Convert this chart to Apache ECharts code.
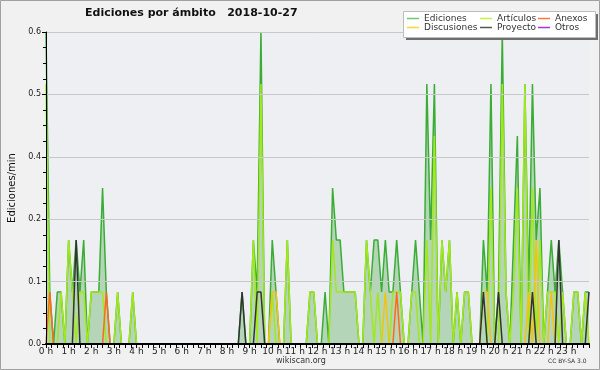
<!DOCTYPE html>
<html>
<head>
<meta charset="utf-8">
<script src="https://cdn.jsdelivr.net/npm/echarts@6/dist/echarts.min.js"></script>
<style>
html,body{margin:0;padding:0;background:#f1f1f1;}
#c{width:600px;height:370px;}
</style>
</head>
<body>
<div id="c"></div>
<script>
// 10-minute bins, 0:00 .. 24:00 (145 points), edits per minute
const hourLabels = ['0 h','1 h','2 h','3 h','4 h','5 h','6 h','7 h','8 h','9 h','10 h','11 h','12 h','13 h','14 h','15 h','16 h','17 h','18 h','19 h','20 h','21 h','22 h','23 h'];
const seriesNames = ['Ediciones','Artículos','Anexos','Discusiones','Proyecto','Otros'];

const ediciones = [
  0.6,0.1,0,0.1,0.1,0, 0.2,0.1,0.2,0.1,0.2,0,
  0.1,0.1,0.1,0.3,0.1,0, 0,0.1,0,0,0,0.1,
  0,0,0,0,0,0, 0,0,0,0,0,0,
  0,0,0,0,0,0, 0,0,0,0,0,0,
  0,0,0,0,0.1,0, 0,0.2,0.1,0.6,0,0,
  0.2,0.1,0,0,0.2,0, 0,0,0,0,0.1,0.1,
  0,0,0.1,0,0.3,0.2, 0.2,0.1,0.1,0.1,0.1,0,
  0,0.2,0.1,0.2,0.2,0.1, 0.2,0.1,0.1,0.2,0.1,0,
  0,0.1,0.2,0.1,0,0.5, 0.2,0.5,0,0.2,0.1,0.2,
  0,0.1,0,0.1,0.1,0, 0,0,0.2,0.1,0.5,0,
  0.1,0.6,0.1,0,0.2,0.4, 0,0.5,0.1,0.5,0.2,0.3,
  0,0.1,0.2,0.1,0.2,0.1, 0,0,0.1,0.1,0,0.1,
  0.1
];
const articulos = [
  0.5,0,0,0,0.1,0, 0.2,0.1,0,0.1,0.1,0,
  0.1,0.1,0.1,0.1,0,0, 0,0.1,0,0,0,0.1,
  0,0,0,0,0,0, 0,0,0,0,0,0,
  0,0,0,0,0,0, 0,0,0,0,0,0,
  0,0,0,0,0,0, 0,0.2,0,0.5,0,0,
  0.1,0,0,0,0.2,0, 0,0,0,0,0.1,0.1,
  0,0,0,0,0.2,0.1, 0.1,0.1,0.1,0.1,0.1,0,
  0,0.2,0.1,0,0.1,0, 0,0,0.1,0.1,0.1,0,
  0,0.1,0.1,0,0,0.2, 0,0.4,0,0.2,0.1,0.2,
  0,0.1,0,0.1,0.1,0, 0,0,0,0,0.3,0,
  0,0.5,0.1,0,0.1,0.3, 0,0.5,0,0.3,0,0.2,
  0,0.1,0.1,0.1,0,0.1, 0,0,0.1,0.1,0,0.1,
  0
];
const anexos = [
  0,0.1,0,0,0,0, 0,0,0,0,0,0,
  0,0,0,0,0.1,0, 0,0,0,0,0,0,
  0,0,0,0,0,0, 0,0,0,0,0,0,
  0,0,0,0,0,0, 0,0,0,0,0,0,
  0,0,0,0,0,0, 0,0,0,0,0,0,
  0,0,0,0,0,0, 0,0,0,0,0,0,
  0,0,0,0,0,0, 0,0,0,0,0,0,
  0,0,0,0,0,0, 0,0,0,0.1,0,0,
  0,0,0,0,0,0, 0,0,0,0,0,0,
  0,0,0,0,0,0, 0,0,0,0,0,0,
  0,0,0,0,0,0, 0,0,0,0,0,0,
  0,0,0,0,0,0, 0,0,0,0,0,0,
  0
];
const discusiones = [
  0,0,0,0,0,0, 0,0,0,0,0,0,
  0,0,0,0,0,0, 0,0,0,0,0,0,
  0,0,0,0,0,0, 0,0,0,0,0,0,
  0,0,0,0,0,0, 0,0,0,0,0,0,
  0,0,0,0,0,0, 0,0,0,0,0,0,
  0.1,0.1,0,0,0,0, 0,0,0,0,0,0,
  0,0,0,0,0,0, 0,0,0,0,0,0,
  0,0,0,0,0,0, 0.1,0,0,0,0,0,
  0,0,0,0,0,0, 0,0,0,0,0,0,
  0,0,0,0,0,0, 0,0,0.1,0.1,0,0,
  0,0,0,0,0,0, 0,0,0.1,0,0.2,0,
  0,0,0.1,0,0,0, 0,0,0,0,0,0,
  0
];
const proyecto = [
  0,0,0,0,0,0, 0,0,0.2,0,0,0,
  0,0,0,0,0,0, 0,0,0,0,0,0,
  0,0,0,0,0,0, 0,0,0,0,0,0,
  0,0,0,0,0,0, 0,0,0,0,0,0,
  0,0,0,0,0.1,0, 0,0,0.1,0.1,0,0,
  0,0,0,0,0,0, 0,0,0,0,0,0,
  0,0,0,0,0,0, 0,0,0,0,0,0,
  0,0,0,0,0,0, 0,0,0,0,0,0,
  0,0,0,0,0,0, 0,0,0,0,0,0,
  0,0,0,0,0,0, 0,0,0.1,0,0,0,
  0.1,0,0,0,0,0, 0,0,0,0.1,0,0,
  0,0,0,0,0.2,0, 0,0,0,0,0,0,
  0.1
];
const otros = [
  0,0,0,0,0,0, 0,0,0,0,0,0,
  0,0,0,0,0,0, 0,0,0,0,0,0,
  0,0,0,0,0,0, 0,0,0,0,0,0,
  0,0,0,0,0,0, 0,0,0,0,0,0,
  0,0,0,0,0,0, 0,0,0,0,0,0,
  0,0,0,0,0,0, 0,0,0,0,0,0,
  0,0,0,0,0,0, 0,0,0,0,0,0,
  0,0,0,0,0,0, 0,0,0,0,0,0,
  0,0,0,0,0,0, 0,0,0,0,0,0,
  0,0,0,0,0,0, 0,0,0,0,0,0,
  0,0,0,0,0,0, 0,0,0,0,0,0,
  0,0,0,0,0,0, 0,0,0,0,0,0,
  0
];

const FONT = 'DejaVu Sans';
const colors = ['#3aad35','#a2e81a','#ff6a1a','#f2c40c','#333333','#9933ff'];
const legendColors = ['#6cc86c','#c8f040','#ff7a3a','#ffd633','#555555','#9933ff'];

function toPoints(arr){ return arr.map((v,i)=>[i/6, v]); }
const allData = [ediciones, articulos, anexos, discusiones, proyecto, otros];

const chart = echarts.init(document.getElementById('c'), null, {renderer:'canvas'});

const series = seriesNames.map((name, k) => {
  const s = {
    name: name,
    type: 'line',
    data: toPoints(allData[k]),
    showSymbol: false,
    symbol: 'none',
    lineStyle: {color: colors[k], width: 1.5},
    itemStyle: {color: legendColors[k]},
    z: 2 + k,
    animation: false,
    silent: true
  };
  if (k === 0) {
    s.areaStyle = {color: 'rgba(60,160,60,0.46)', origin: 'start'};
  }
  return s;
});

const legendPos = [
  {left: 407, top: 14}, {left: 480, top: 14}, {left: 538, top: 14},
  {left: 407, top: 23}, {left: 480, top: 23}, {left: 538, top: 23}
];
const legends = seriesNames.map((n, k) => ({
  data: [n],
  left: legendPos[k].left,
  top: legendPos[k].top,
  orient: 'horizontal',
  icon: 'rect',
  itemWidth: 12,
  itemHeight: 1.5,
  itemGap: 0,
  padding: 0,
  z: 20,
  selectedMode: false,
  textStyle: {fontFamily: FONT, fontSize: 9, color: '#333', padding: [0,0,0,0]}
}));

chart.setOption({
  backgroundColor: '#f1f1f1',
  animation: false,
  title: {
    text: 'Ediciones por ámbito   2018-10-27',
    left: 85, top: 8, padding: 0,
    textStyle: {fontFamily: FONT, fontSize: 11, fontWeight: 'bold', color: '#111'}
  },
  legend: legends,
  grid: {
    left: 46, right: 11, top: 32, bottom: 26,
    containLabel: false, outerBoundsMode: 'none',
    show: true, backgroundColor: '#edeff2', borderWidth: 0
  },
  xAxis: {
    type: 'value', min: 0, max: 24, interval: 1, z: 10,
    axisLine: {show: true, lineStyle: {color: '#000', width: 2}},
    axisTick: {show: true, length: 4, lineStyle: {color: '#000'}},
    minorTick: {show: true, splitNumber: 4, length: 4, lineStyle: {color: '#000'}},
    splitLine: {show: false},
    axisLabel: {
      fontFamily: FONT, fontSize: 9, color: '#222', margin: 3,
      showMaxLabel: false,
      formatter: v => (v < 24 ? hourLabels[Math.round(v)] : '')
    }
  },
  yAxis: {
    type: 'value', min: 0, max: 0.6, interval: 0.12, z: 10,
    name: 'Ediciones/min', nameLocation: 'middle', nameGap: 29, nameRotate: 90,
    nameTextStyle: {fontFamily: FONT, fontSize: 10, color: '#111'},
    axisLine: {show: true, lineStyle: {color: '#000', width: 1}},
    axisTick: {show: true, length: 4, lineStyle: {color: '#000'}},
    minorTick: {show: true, splitNumber: 4, length: 3, lineStyle: {color: '#000'}},
    splitLine: {show: true, lineStyle: {color: '#c8c8c8', width: 1}},
    axisLabel: {
      fontFamily: FONT, fontSize: 8, color: '#222', margin: 5,
      formatter: v => v.toFixed(1)
    }
  },
  graphic: [
    {type: 'rect', shape: {x: 0.5, y: 0.5, width: 599, height: 369}, style: {fill: 'none', stroke: '#a0a0a0', lineWidth: 1}, z: 100},
    {type: 'rect', shape: {x: 406, y: 14, width: 192, height: 26}, style: {fill: '#6e6e6e'}, z: 10},
    {type: 'rect', shape: {x: 403.5, y: 11.5, width: 192, height: 26}, style: {fill: '#ffffff', stroke: '#bdbdbd', lineWidth: 1}, z: 11},
    {type: 'text', left: 276, top: 357, style: {text: 'wikiscan.org', font: '8px "DejaVu Sans"', fill: '#333'}, z: 12},
    {type: 'text', left: 548, top: 358, style: {text: 'CC BY-SA 3.0', font: '6px "DejaVu Sans"', fill: '#333'}, z: 12}
  ],
  series: series
});
</script>
</body>
</html>
